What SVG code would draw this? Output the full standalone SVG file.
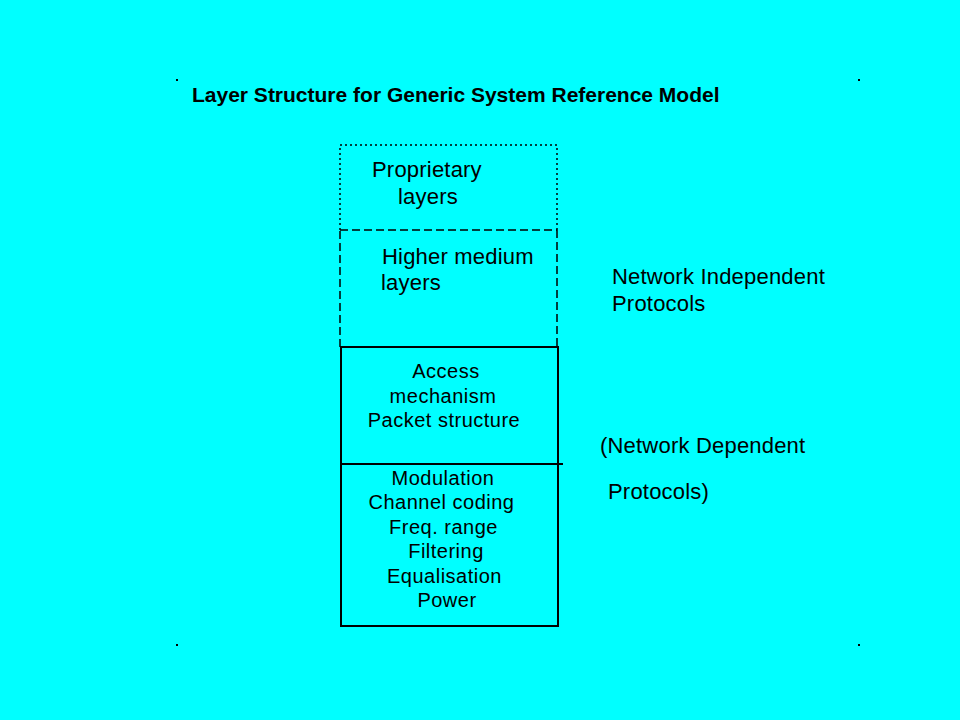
<svg xmlns="http://www.w3.org/2000/svg" width="960" height="720" viewBox="0 0 960 720">
<style>
text { font-family: "Liberation Sans", Arial, sans-serif; fill: #000; }
.t { font-size: 22px; letter-spacing: 0.2px; }
.b { font-size: 20px; text-anchor: middle; letter-spacing: 0.5px; }
.title { font-size: 21px; font-weight: bold; }
.dot { stroke: #000; stroke-width: 1.5; stroke-dasharray: 2 3; fill: none; }
.dash { stroke: #000; stroke-width: 1.5; stroke-dasharray: 8 4; fill: none; }
.solid { stroke: #000; stroke-width: 2; fill: none; }
</style>
<rect width="960" height="720" fill="#00FFFF"/>
<g id="corner-marks" fill="#000">
<rect x="176" y="79" width="2" height="2"/>
<rect x="858" y="79" width="2" height="2"/>
<rect x="176" y="644" width="2" height="2"/>
<rect x="858" y="644" width="2" height="2"/>
</g>
<text id="title" class="title" x="192" y="102">Layer Structure for Generic System Reference Model</text>
<g id="connectors">
<path class="dot" d="M340,230 V145 H557 V230"/>
<path class="dash" d="M340,230 H557"/>
<path class="dash" d="M340,347 V230 M557,230 V347"/>
<rect class="solid" x="341" y="347" width="217" height="279"/>
<path class="solid" d="M341,464 H563"/>
</g>
<g id="proprietary">
<text class="t" x="372" y="177">Proprietary</text>
<text class="t" x="398" y="204">layers</text>
</g>
<g id="higher-medium">
<text class="t" x="382" y="264">Higher medium</text>
<text class="t" x="381" y="290">layers</text>
</g>
<g id="access">
<text class="b" x="446" y="378">Access</text>
<text class="b" x="443" y="403">mechanism</text>
<text class="b" x="444" y="427">Packet structure</text>
</g>
<g id="physical">
<text class="b" x="443" y="485">Modulation</text>
<text class="b" x="441.5" y="509">Channel coding</text>
<text class="b" x="443.5" y="534">Freq. range</text>
<text class="b" x="446" y="558">Filtering</text>
<text class="b" x="444.5" y="583">Equalisation</text>
<text class="b" x="447" y="607">Power</text>
</g>
<g id="net-independent">
<text class="t" x="612" y="284">Network Independent</text>
<text class="t" x="612" y="311">Protocols</text>
</g>
<g id="net-dependent">
<text class="t" x="600" y="453">(Network Dependent</text>
<text class="t" x="608" y="499">Protocols)</text>
</g>
</svg>
